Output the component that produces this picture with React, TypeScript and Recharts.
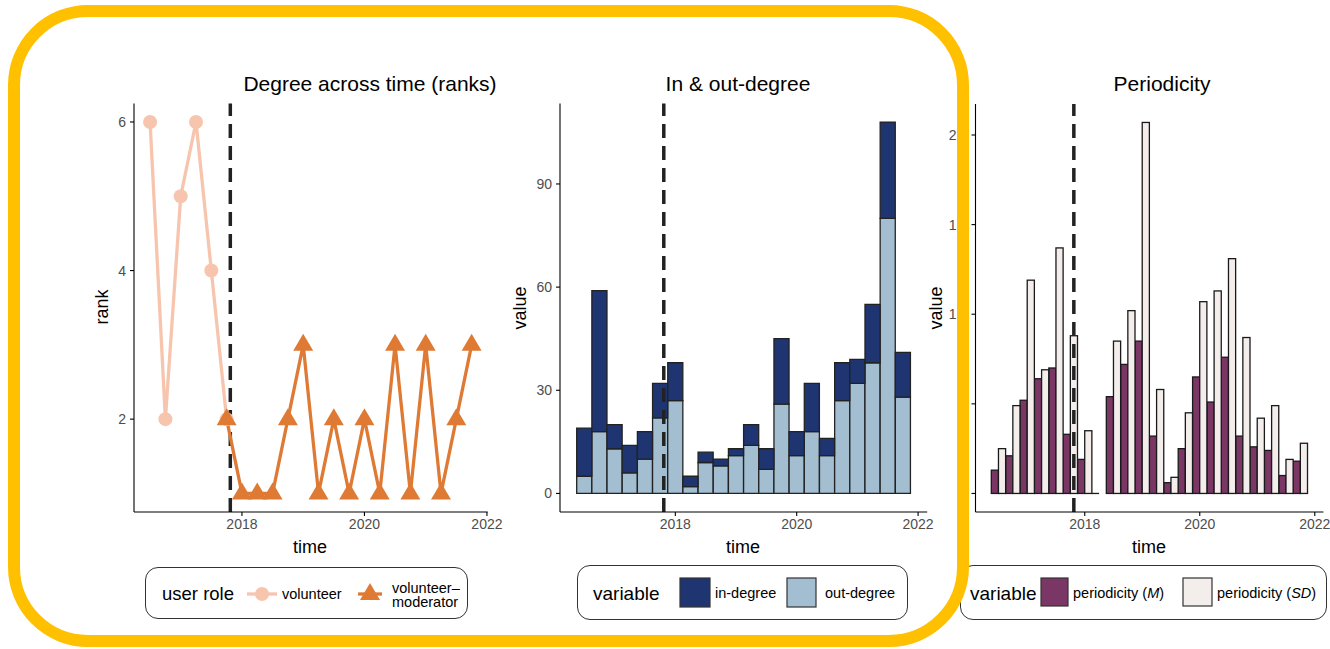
import React from 'react';
import { ComposedChart, Line, Bar, XAxis, YAxis, ReferenceLine } from 'recharts';

// ---------- data ----------
const quarters = [
  2016.5, 2016.75, 2017.0, 2017.25, 2017.5, 2017.75, 2018.0, 2018.25, 2018.5, 2018.75, 2019.0,
  2019.25, 2019.5, 2019.75, 2020.0, 2020.25, 2020.5, 2020.75, 2021.0, 2021.25, 2021.5, 2021.75,
];
const volunteerRank = [6, 2, 5, 6, 4, 2, null, null, null, null, null, null, null, null, null, null, null, null, null, null, null, null];
const moderatorRank = [null, null, null, null, null, 2, 1, 1, 1, 2, 3, 1, 2, 1, 2, 1, 3, 1, 3, 1, 2, 3];
const inDegree = [14, 41, 7, 8, 8, 10, 11, 3, 3, 2, 2, 6, 6, 19, 7, 14, 5, 11, 7, 17, 28, 13];
const outDegree = [5, 18, 13, 6, 10, 22, 27, 2, 9, 8, 11, 14, 7, 26, 11, 18, 11, 27, 32, 38, 80, 28];
const periodicityM = [0.13, 0.21, 0.52, 0.64, 0.7, 0.33, 0.19, 0, 0.54, 0.72, 0.85, 0.32, 0.06, 0.25, 0.65, 0.51, 0.76, 0.32, 0.26, 0.24, 0.1, 0.18];
const periodicitySD = [0.25, 0.49, 1.19, 0.69, 1.37, 0.88, 0.35, null, 0.85, 1.02, 2.07, 0.58, 0.09, 0.45, 1.07, 1.13, 1.31, 0.87, 0.42, 0.49, 0.19, 0.28];

const yearTicks = [2018, 2020, 2022];
const rankTicks = [2, 4, 6];
const valueTicks = [0, 30, 60, 90];
const periodicityTicks = [0, 0.5, 1, 1.5, 2];
const periodicityTickLabels = ['', '', '1', '1', '2'];
const roleChange = 2017.81;

const rankData = quarters.map((t, i) => ({ time: t, volunteer: volunteerRank[i], moderator: moderatorRank[i] }));
const degreeData = quarters.map((t, i) => ({ time: t, inDeg: inDegree[i], outDeg: outDegree[i] }));
const periodData = quarters.map((t, i) => ({ time: t, pm: periodicityM[i], psd: periodicitySD[i] }));

// ---------- style ----------
const FONT = '"Liberation Sans", Arial, Helvetica, sans-serif';
const VOL = '#F7C5AD';
const MOD = '#DF7A35';
const IN_C = '#1F3572';
const OUT_C = '#A4BED1';
const M_C = '#7A3766';
const SD_C = '#F3EEEC';
const OUTLINE = '#222222';
const TICK = { fill: '#4d4d4d', fontSize: 14, fontFamily: FONT };
const AX = { stroke: '#000', strokeWidth: 1.1 };

const Txt = ({ x, y, size, children, left = false, rotate = 0, color = '#000' }: any) => (
  <div
    style={{
      position: 'absolute', left: x, top: y, fontSize: size, fontFamily: FONT, color, whiteSpace: 'nowrap',
      lineHeight: 1, transform: `translate(${left ? '0' : '-50%'}, -50%) rotate(${rotate}deg)`,
    }}
  >
    {children}
  </div>
);

const CircleDot = (props: any) => {
  const { cx, cy, index, value } = props;
  if (cx == null || cy == null || value == null) return <g key={`c${index}`} />;
  return <circle key={`c${index}`} cx={cx} cy={cy} r={7} fill={VOL} />;
};

const TriDot = (props: any) => {
  const { cx, cy, index, value } = props;
  if (cx == null || cy == null || value == null) return <g key={`t${index}`} />;
  return <path key={`t${index}`} d={`M${cx},${cy - 11} L${cx + 10},${cy + 6} L${cx - 10},${cy + 6} Z`} fill={MOD} />;
};

const PerShape = (props: any) => {
  const { x, y, width, height, fill, value } = props;
  const v = Array.isArray(value) ? value[1] - value[0] : value;
  if (v == null || Number.isNaN(v) || x == null) return <g />;
  if (!height || Math.abs(height) < 0.5)
    return <line x1={x} x2={x + width} y1={y} y2={y} stroke="#1a1a1a" strokeWidth={1.3} />;
  return <rect x={x} y={y} width={width} height={height} fill={fill} stroke="#1a1a1a" strokeWidth={1.3} />;
};

const W = 1330;
const H = 649;
const YW = 60;
const XH = 30;
const PLOT_BOTTOM = 512;
const abs: any = { position: 'absolute', left: 0, top: 0 };

export default function App() {
  return (
    <div style={{ position: 'absolute', left: 0, top: 0, width: W, height: H, background: '#fff', overflow: 'hidden', fontFamily: FONT }}>
      {/* Panel 1 */}
      <div style={abs}>
        <ComposedChart width={W} height={H} data={rankData}
          margin={{ top: 103.4, left: 134 - YW, right: W - 487.7, bottom: H - PLOT_BOTTOM - XH }}>
          <XAxis type="number" dataKey="time" domain={[2016.2375, 2022.0125]} allowDataOverflow ticks={yearTicks}
            height={XH} tickSize={4} tickMargin={3} tick={TICK} axisLine={AX} tickLine={AX} />
          <YAxis type="number" domain={[0.75, 6.25]} allowDataOverflow ticks={rankTicks} width={YW}
            tickSize={4} tickMargin={4} tick={TICK} axisLine={AX} tickLine={AX} />
          <ReferenceLine x={roleChange} stroke="#222" strokeWidth={3.5} strokeDasharray="14 8" />
          <Line dataKey="volunteer" stroke={VOL} strokeWidth={3.3} dot={CircleDot} activeDot={false} isAnimationActive={false} />
          <Line dataKey="moderator" stroke={MOD} strokeWidth={3.3} dot={TriDot} activeDot={false} isAnimationActive={false} />
        </ComposedChart>
      </div>

      {/* Panel 2 */}
      <div style={abs}>
        <ComposedChart width={W} height={H} data={degreeData} barGap={0}
          margin={{ top: 103.5, left: 560 - YW, right: W - 927.2, bottom: H - PLOT_BOTTOM - XH }}>
          <XAxis type="number" dataKey="time" domain={[2016.1, 2022.15]} allowDataOverflow ticks={yearTicks}
            height={XH} tickSize={4} tickMargin={3} tick={TICK} axisLine={AX} tickLine={AX} />
          <YAxis type="number" domain={[-5.4, 113.4]} allowDataOverflow ticks={valueTicks} width={YW}
            tickSize={4} tickMargin={4} tick={TICK} axisLine={AX} tickLine={AX} />
          <Bar dataKey="outDeg" stackId="d" fill={OUT_C} stroke={OUTLINE} strokeWidth={1.3} barSize={15.1} isAnimationActive={false} />
          <Bar dataKey="inDeg" stackId="d" fill={IN_C} stroke={OUTLINE} strokeWidth={1.3} barSize={15.1} isAnimationActive={false} />
          <ReferenceLine x={roleChange} stroke="#222" strokeWidth={3.5} strokeDasharray="14 8" />
        </ComposedChart>
      </div>

      {/* Panel 3 */}
      <div style={abs}>
        <ComposedChart width={W} height={H} data={periodData} barGap={0}
          margin={{ top: 103.9, left: 975.5 - YW, right: W - 1323.4, bottom: H - PLOT_BOTTOM - XH }}>
          <XAxis type="number" dataKey="time" domain={[2016.1, 2022.15]} allowDataOverflow ticks={yearTicks}
            height={XH} tickSize={4} tickMargin={3} tick={TICK} axisLine={AX} tickLine={AX} />
          <YAxis type="number" domain={[-0.1035, 2.1735]} allowDataOverflow ticks={periodicityTicks} width={YW}
            tickFormatter={(v: number) => periodicityTickLabels[periodicityTicks.indexOf(v)] ?? ''}
            tickSize={4} tickMargin={15} tick={TICK} axisLine={AX} tickLine={AX} />
          <Bar dataKey="pm" fill={M_C} barSize={7.15} shape={PerShape} isAnimationActive={false} />
          <Bar dataKey="psd" fill={SD_C} barSize={7.15} shape={PerShape} isAnimationActive={false} />
          <ReferenceLine x={roleChange} stroke="#222" strokeWidth={3.5} strokeDasharray="14 8" />
        </ComposedChart>
      </div>

      {/* Titles & axis titles */}
      <Txt x={370} y={83} size={21}>Degree across time (ranks)</Txt>
      <Txt x={738} y={83} size={21}>In &amp; out-degree</Txt>
      <Txt x={1162} y={83} size={21}>Periodicity</Txt>
      <Txt x={310} y={547} size={18}>time</Txt>
      <Txt x={743} y={547} size={18}>time</Txt>
      <Txt x={1149} y={547} size={18}>time</Txt>
      <Txt x={102} y={307} size={18} rotate={-90}>rank</Txt>
      <Txt x={520} y={308} size={18} rotate={-90}>value</Txt>
      <Txt x={936} y={308} size={18} rotate={-90}>value</Txt>

      {/* Legend 1 */}
      <div style={{ position: 'absolute', left: 145, top: 567, width: 323, height: 52, border: '1.2px solid #333', borderRadius: 13, boxSizing: 'border-box' }} />
      <Txt x={162} y={594} size={18.5} left>user role</Txt>
      <svg style={{ position: 'absolute', left: 0, top: 0 }} width={W} height={H} pointerEvents="none">
        <line x1={247} x2={277} y1={594} y2={594} stroke={VOL} strokeWidth={3.3} />
        <circle cx={262} cy={594} r={7} fill={VOL} />
        <line x1={358} x2={382} y1={594} y2={594} stroke={MOD} strokeWidth={3.3} />
        <path d="M370,583 L380,600 L360,600 Z" fill={MOD} />
        <rect x={680} y={578} width={30} height={29} fill={IN_C} stroke="#333" strokeWidth={1.2} />
        <rect x={787} y={578} width={29} height={29} fill={OUT_C} stroke="#333" strokeWidth={1.2} />
        <rect x={1041} y={578} width={27} height={28} fill={M_C} stroke="#333" strokeWidth={1.2} />
        <rect x={1183} y={578} width={29} height={28} fill={SD_C} stroke="#333" strokeWidth={1.2} />
      </svg>
      <Txt x={282} y={594} size={14.5} left>volunteer</Txt>
      <div style={{ position: 'absolute', left: 392, top: 581, fontSize: 14.5, lineHeight: '14px', fontFamily: FONT, color: '#000' }}>
        volunteer–<br />moderator
      </div>

      {/* Legend 2 */}
      <div style={{ position: 'absolute', left: 577, top: 565, width: 331, height: 55, border: '1.2px solid #333', borderRadius: 13, boxSizing: 'border-box' }} />
      <Txt x={593} y={593} size={19} left>variable</Txt>
      <Txt x={715} y={593} size={14.5} left>in-degree</Txt>
      <Txt x={825} y={593} size={14.5} left>out-degree</Txt>

      {/* Legend 3 */}
      <div style={{ position: 'absolute', left: 960, top: 565, width: 367, height: 55, border: '1.2px solid #333', borderRadius: 13, boxSizing: 'border-box' }} />
      <Txt x={970} y={593} size={19} left>variable</Txt>
      <Txt x={1073} y={593} size={14.5} left>periodicity (<i>M</i>)</Txt>
      <Txt x={1217} y={593} size={14.5} left>periodicity (<i>SD</i>)</Txt>

      {/* Highlight frame */}
      <svg style={{ position: 'absolute', left: 0, top: 0 }} width={W} height={H} pointerEvents="none">
        <rect x={14} y={11} width={949} height={630} rx={74} ry={74} fill="none" stroke="#FFC000" strokeWidth={12} />
      </svg>
    </div>
  );
}
